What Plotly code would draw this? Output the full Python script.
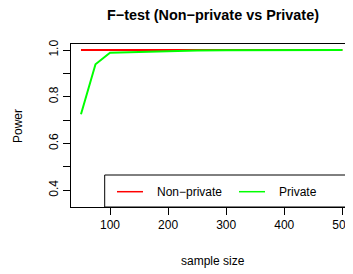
import plotly.graph_objects as go

sample_size = [50, 75, 100, 150, 200, 250, 300, 350, 400, 450, 500]
power_nonprivate = [1.0, 1.0, 1.0, 1.0, 1.0, 1.0, 1.0, 1.0, 1.0, 1.0, 1.0]
power_private = [0.725, 0.939, 0.988, 0.992, 0.995, 0.998, 0.999, 1.0, 1.0, 1.0, 1.0]
series_names = ["Non\u2212private", "Private"]
series_colors = ["#FF0000", "#00FF00"]
y_tick_vals = [0.3, 0.4, 0.5, 0.6, 0.7, 0.8, 0.9, 1.0]
y_tick_text = ["", "0.4", "", "0.6", "", "0.8", "", "1.0"]
x_tick_vals = [100, 200, 300, 400, 500]

OFF = 8  # page body margin
W, H = 353 - OFF, 274 - OFF
# plot box in page pixels
L, T, B, R = 71, 44, 207, 353
pw, ph = R - L, B - T

def px(x):
    return (x - L) / pw

def py(y):
    return (B - y) / ph

font = "Liberation Sans, Arial, Helvetica, sans-serif"

fig = go.Figure()
fig.add_trace(go.Scatter(x=sample_size, y=power_nonprivate, mode="lines",
                         line=dict(color=series_colors[0], width=2),
                         name=series_names[0], showlegend=False))
fig.add_trace(go.Scatter(x=sample_size, y=power_private, mode="lines",
                         line=dict(color=series_colors[1], width=2),
                         name=series_names[1], showlegend=False))

# axis mapping: 100 at px 110.3, 58.5 px per 100
x_lo = 100 - (110.3 - L) / 0.585
x_hi = 100 + (R + 2 - 110.3) / 0.585
# y: 1.0 at py 50, 233.5 px per unit
y_hi = 1.0 + (50 - T) / 233.5
y_lo = 1.0 - (B - 50) / 233.5

fig.update_layout(
    width=W, height=H,
    margin=dict(l=L - OFF, r=0, t=T - OFF, b=274 - B, pad=0, autoexpand=False),
    paper_bgcolor="white", plot_bgcolor="white",
    font=dict(family=font, size=12, color="black"),
    showlegend=False,
    xaxis=dict(range=[x_lo, x_hi], tickvals=x_tick_vals, ticks="outside", ticklen=7,
               tickwidth=1, tickcolor="black", showgrid=False, zeroline=False,
               showline=True, linecolor="black", linewidth=1, mirror=True, automargin=False,
               ticklabeloverflow="allow", tickfont=dict(size=12, family=font)),
    yaxis=dict(range=[y_lo, y_hi], tickvals=y_tick_vals, ticktext=y_tick_text,
               ticks="outside", ticklen=7, tickwidth=1, tickcolor="black", automargin=False,
               showgrid=False, zeroline=False, showline=True, linecolor="black",
               linewidth=1, tickangle=-90, tickfont=dict(size=12, family=font)),
)

ann = []
ann.append(dict(text="<b>F\u2212test (Non\u2212private vs Private)</b>", x=px(213), y=py(15),
                xref="paper", yref="paper", showarrow=False, xanchor="center", yanchor="middle",
                font=dict(size=14.4, family=font)))
ann.append(dict(text="sample size", x=px(213), y=py(261), xref="paper", yref="paper",
                showarrow=False, xanchor="center", yanchor="middle", font=dict(size=12, family=font)))
ann.append(dict(text="Power", x=px(18), y=py(126), xref="paper", yref="paper", textangle=-90,
                showarrow=False, xanchor="center", yanchor="middle", font=dict(size=12, family=font)))
fig.update_layout(annotations=ann)

shapes = []
# legend box
shapes.append(dict(type="rect", xref="paper", yref="paper", x0=px(104.7), x1=px(362),
                   y0=py(207), y1=py(175), line=dict(color="black", width=1),
                   fillcolor="white", layer="above"))
ly = py(191.7)
shapes.append(dict(type="line", xref="paper", yref="paper", x0=px(117), x1=px(143), y0=ly, y1=ly,
                   line=dict(color=series_colors[0], width=1.5), layer="above"))
shapes.append(dict(type="line", xref="paper", yref="paper", x0=px(239), x1=px(265), y0=ly, y1=ly,
                   line=dict(color=series_colors[1], width=1.5), layer="above"))
fig.update_layout(shapes=shapes)
fig.add_annotation(text=series_names[0], x=px(155), y=ly, xref="paper", yref="paper",
                   showarrow=False, xanchor="left", yanchor="middle", font=dict(size=12, family=font))
fig.add_annotation(text=series_names[1], x=px(277), y=ly, xref="paper", yref="paper",
                   showarrow=False, xanchor="left", yanchor="middle", font=dict(size=12, family=font))

fig.write_html("out.html")
